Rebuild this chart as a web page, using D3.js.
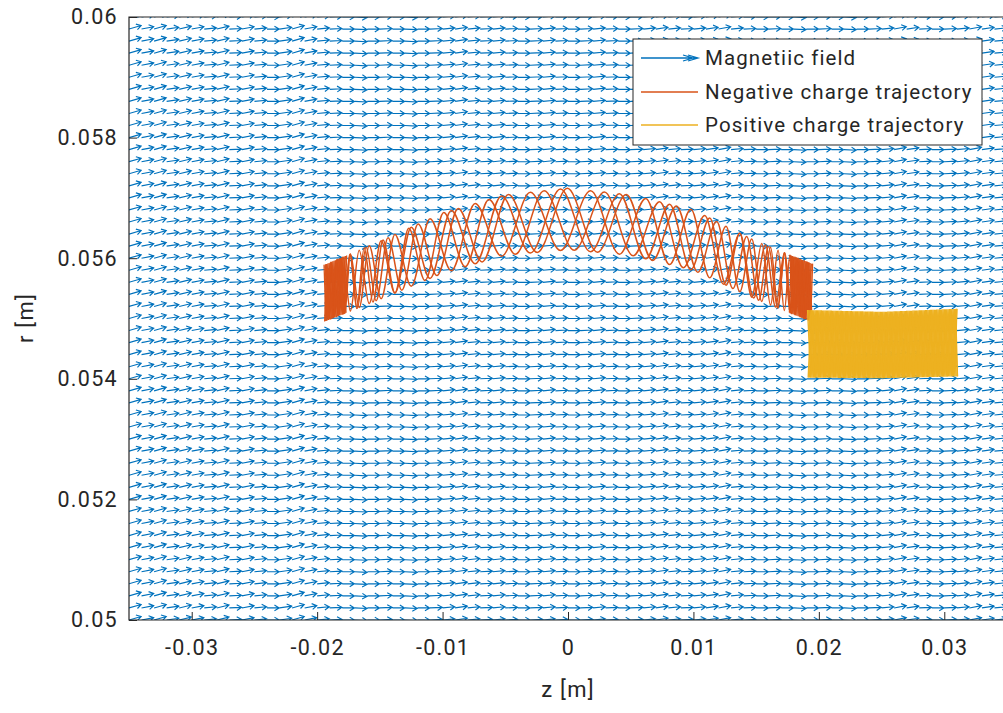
<!DOCTYPE html>
<html>
<head>
<meta charset="utf-8" />
<title>Magnetic field and charge trajectories</title>
<script src="https://d3js.org/d3.v7.min.js"></script>
<style>
  body { margin: 0; background: #fff; font-family: Roboto, "Liberation Sans", sans-serif; }
  #chart { width: 1003px; height: 713px; overflow: hidden; }
  .tick text { fill: #262626; font-size: 21.5px; letter-spacing: 1.3px; font-family: Roboto, sans-serif; }
</style>
</head>
<body>
<div id="chart"></div>
<script>
// ---- axis ticks (m)
var zTicks = [-0.03, -0.02, -0.01, 0, 0.01, 0.02, 0.03];
var rTicks = [0.05, 0.052, 0.054, 0.056, 0.058, 0.06];
var zTickLabels = ["-0.03", "-0.02", "-0.01", "0", "0.01", "0.02", "0.03"];
var rTickLabels = ["0.05", "0.052", "0.054", "0.056", "0.058", "0.06"];

// ---- quiver grid (mm)
var fieldZ = [-35, -34, -33, -32, -31, -30, -29, -28, -27, -26, -25, -24, -23, -22, -21, -20,
  -19, -18, -17, -16, -15, -14, -13, -12, -11, -10, -9, -8, -7, -6, -5, -4, -3, -2, -1, 0,
  1, 2, 3, 4, 5, 6, 7, 8, 9, 10, 11, 12, 13, 14, 15, 16, 17, 18, 19, 20,
  21, 22, 23, 24, 25, 26, 27, 28, 29, 30, 31, 32, 33, 34, 35];
var fieldR = [50.0, 50.2, 50.4, 50.6, 50.8, 51.0, 51.2, 51.4, 51.6, 51.8, 52.0, 52.2, 52.4,
  52.6, 52.8, 53.0, 53.2, 53.4, 53.6, 53.8, 54.0, 54.2, 54.4, 54.6, 54.8, 55.0, 55.2, 55.4,
  55.6, 55.8, 56.0, 56.2, 56.4, 56.6, 56.8, 57.0, 57.2, 57.4, 57.6, 57.8, 58.0, 58.2, 58.4,
  58.6, 58.8, 59.0, 59.2, 59.4, 59.6, 59.8, 60.0];
// Br/Bz per column, in grid-cell units
var fieldSlope = [0.3, 0.2, 0.3, 0.15, 0.25, 0.2,
  0.1, 0.25, 0.05, 0.2, 0.1, 0.0, 0.15, 0.3, 0.2, 0.1,
  0.05, 0.0, -0.05, 0.0, 0.05, 0.0, -0.05, 0.0, 0.05, 0.1,
  0.15, 0.1, 0.05, 0.1, 0.05, 0.0, 0.05, 0.1, 0.05, 0.0,
  0.05, 0.1, 0.05, 0.0, 0.05, 0.1, 0.15, 0.1, 0.05, 0.1,
  0.15, 0.2, 0.1, 0.05, 0.0, 0.05, 0.0, -0.05, 0.0, 0.05,
  0.0, -0.05, 0.0, 0.05, 0.1, 0.2, 0.15, 0.05, 0.0, 0.05,
  0.1, 0.2, 0.15, 0.1, 0.05];

// ---- negative charge (mm)
var negGuideZ = [-19.4, -15, -10, -5, 0, 5, 10, 15, 19.4];
var negGuideR = [55.42, 55.80, 56.25, 56.55, 56.65, 56.55, 56.30, 55.80, 55.43];
var negGuideAmp = [0.47, 0.48, 0.5, 0.5, 0.51, 0.5, 0.5, 0.48, 0.48];
var negTurnZ = [-19.3, -18.9, -18.45, -17.95, -17.35, -16.65, -15.85, -14.9, -13.8, -12.5,
  -11.0, -9.3, -7.4, -5.3, -3.0, -0.6, 1.8, 4.1, 6.2, 8.1, 9.8, 11.3, 12.6, 13.7, 14.65,
  15.45, 16.15, 16.75, 17.25, 17.7, 18.1, 18.5, 18.85, 19.2];
var negShift = [0, 0, 1.1, 0.55];
var negPhase = [1, -1, 1, -1];
var negCapZ = [-19.45, -19.3, -19.15, -19.0, -18.85, -18.7, -18.55, -18.4, -18.25, -18.1,
  -17.95, -17.8, -17.65, 17.65, 17.8, 17.95, 18.1, 18.25, 18.4, 18.55, 18.7, 18.85, 19.0,
  19.15, 19.3, 19.45];

// ---- positive charge (mm)
var posGuideZ = [19.1, 25, 31.0];
var posGuideR = [54.58, 54.56, 54.6];
var posGuideAmp = [0.56, 0.55, 0.56];
var posTurnZ = [19.1, 19.35, 19.6, 19.85, 20.1, 20.35, 20.6, 20.85, 21.1, 21.35, 21.6, 21.85,
  22.1, 22.35, 22.6, 22.85, 23.1, 23.35, 23.6, 23.85, 24.1, 24.35, 24.6, 24.85, 25.1, 25.35,
  25.6, 25.85, 26.1, 26.35, 26.6, 26.85, 27.1, 27.35, 27.6, 27.85, 28.1, 28.35, 28.6, 28.85,
  29.1, 29.35, 29.6, 29.85, 30.1, 30.35, 30.6, 30.85, 31.0];
var posShift = [0, 0.05, 0.1, 0.15, 0.2];
var posPhase = [1, -1, 1, -1, 1];

var legendNames = ["Magnetiic field", "Negative charge trajectory", "Positive charge trajectory"];

var colField = "#0072BD", colNeg = "#D95319", colPos = "#EDB120", ink = "#262626";

var width = 1003, height = 713;
var margin = { top: 17, right: -4, bottom: 93, left: 129 };

var x = d3.scaleLinear().domain([-0.035, 0.035]).range([margin.left, width - margin.right]);
var y = d3.scaleLinear().domain([0.05, 0.06]).range([height - margin.bottom, margin.top]);

var svg = d3.select("#chart").append("svg")
  .attr("width", width).attr("height", height);

svg.append("defs").append("clipPath").attr("id", "plot")
  .append("rect")
  .attr("x", x(-0.035)).attr("y", y(0.06))
  .attr("width", x(0.035) - x(-0.035)).attr("height", y(0.05) - y(0.06));

var plot = svg.append("g").attr("clip-path", "url(#plot)");

// quiver
var qp = d3.path();
var head = 5.5;
fieldR.forEach(function (rmm) {
  fieldZ.forEach(function (zmm, i) {
    var z0 = zmm / 1000, r0 = rmm / 1000;
    var x0 = x(z0), y0 = y(r0);
    var x1 = x(z0 + 0.00097), y1 = y(r0 + fieldSlope[i] * 0.0002 * 0.97);
    var a = Math.atan2(y1 - y0, x1 - x0);
    qp.moveTo(x0, y0);
    qp.lineTo(x1, y1);
    qp.moveTo(x1 - head * Math.cos(a - 0.55), y1 - head * Math.sin(a - 0.55));
    qp.lineTo(x1, y1);
    qp.lineTo(x1 - head * Math.cos(a + 0.55), y1 - head * Math.sin(a + 0.55));
  });
});
plot.append("path")
  .attr("d", qp.toString())
  .attr("fill", "none")
  .attr("stroke", colField)
  .attr("stroke-width", 1.15);

function strand(turnZ, gz, gr, ga, shift, phase, zMin, zMax) {
  var center = d3.scaleLinear().domain(gz).range(gr).clamp(true);
  var amp = d3.scaleLinear().domain(gz).range(ga).clamp(true);
  var pts = [];
  turnZ.forEach(function (z, k) {
    var zz = z + shift;
    if (zz < zMin || zz > zMax) return;
    var s = (k % 2 === 0 ? 1 : -1) * phase;
    pts.push([zz, center(zz) + s * amp(zz)]);
  });
  return pts;
}

var smooth = d3.line()
  .x(function (d) { return x(d[0] / 1000); })
  .y(function (d) { return y(d[1] / 1000); })
  .curve(d3.curveMonotoneX);
var zig = d3.line()
  .x(function (d) { return x(d[0] / 1000); })
  .y(function (d) { return y(d[1] / 1000); });

// negative charge
negShift.forEach(function (s, k) {
  plot.append("path")
    .attr("d", smooth(strand(negTurnZ, negGuideZ, negGuideR, negGuideAmp, s, negPhase[k], -19.45, 19.45)))
    .attr("fill", "none").attr("stroke", colNeg).attr("stroke-width", 1.5);
});
[[-19.5, -17.6], [17.6, 19.5]].forEach(function (span) {
  [0, 0.05, 0.1].forEach(function (s, k) {
    plot.append("path")
      .attr("d", zig(strand(negCapZ, negGuideZ, negGuideR, negGuideAmp, s, k === 1 ? -1 : 1, span[0], span[1])))
      .attr("fill", "none").attr("stroke", colNeg).attr("stroke-width", 1.3);
  });
});

// positive charge
posShift.forEach(function (s, k) {
  plot.append("path")
    .attr("d", zig(strand(posTurnZ, posGuideZ, posGuideR, posGuideAmp, s, posPhase[k], 19.05, 31.05)))
    .attr("fill", "none").attr("stroke", colPos).attr("stroke-width", 1.4);
});

// axes
var xAxis = svg.append("g")
  .attr("transform", "translate(0," + y(0.05) + ")")
  .call(d3.axisBottom(x).tickValues(zTicks).tickSize(-8).tickPadding(20)
    .tickFormat(function (d, i) { return zTickLabels[i]; }));
var yAxis = svg.append("g")
  .attr("transform", "translate(" + x(-0.035) + ",0)")
  .call(d3.axisLeft(y).tickValues(rTicks).tickSize(-8).tickPadding(11)
    .tickFormat(function (d, i) { return rTickLabels[i]; }));
[xAxis, yAxis].forEach(function (g) {
  g.select(".domain").remove();
  g.selectAll(".tick line").attr("stroke", ink);
});

// box
svg.append("path")
  .attr("d", "M" + x(0.035) + "," + y(0.06) + "H" + x(-0.035) + "V" + y(0.05) + "H" + x(0.035))
  .attr("fill", "none").attr("stroke", ink).attr("stroke-width", 1.2);

svg.append("text")
  .attr("x", x(0)).attr("y", 697)
  .attr("text-anchor", "middle")
  .attr("fill", ink).attr("font-size", 22).attr("letter-spacing", 1.2)
  .text("z [m]");
svg.append("text")
  .attr("transform", "translate(33,318) rotate(-90)")
  .attr("text-anchor", "middle")
  .attr("fill", ink).attr("font-size", 22).attr("letter-spacing", 1.2)
  .text("r [m]");

// legend
var lg = svg.append("g");
lg.append("rect")
  .attr("x", 633).attr("y", 39).attr("width", 349).attr("height", 106)
  .attr("fill", "#fff").attr("stroke", ink).attr("stroke-width", 1);
var rowsY = [58, 92, 125];
lg.append("path")
  .attr("d", "M641," + rowsY[0] + "H698M688," + (rowsY[0] - 3) + "L698," + rowsY[0] + "L688," + (rowsY[0] + 3) +
    "M683," + (rowsY[0] - 3) + "L693," + rowsY[0] + "L683," + (rowsY[0] + 3))
  .attr("fill", "none").attr("stroke", colField).attr("stroke-width", 1.3);
lg.append("line").attr("x1", 641).attr("x2", 698).attr("y1", rowsY[1]).attr("y2", rowsY[1])
  .attr("stroke", colNeg).attr("stroke-width", 1.3);
lg.append("line").attr("x1", 641).attr("x2", 698).attr("y1", rowsY[2]).attr("y2", rowsY[2])
  .attr("stroke", colPos).attr("stroke-width", 1.3);
legendNames.forEach(function (name, i) {
  lg.append("text")
    .attr("x", 705).attr("y", rowsY[i] + 7)
    .attr("fill", ink).attr("font-size", 20.5).attr("letter-spacing", 1.1)
    .text(name);
});
</script>
</body>
</html>
